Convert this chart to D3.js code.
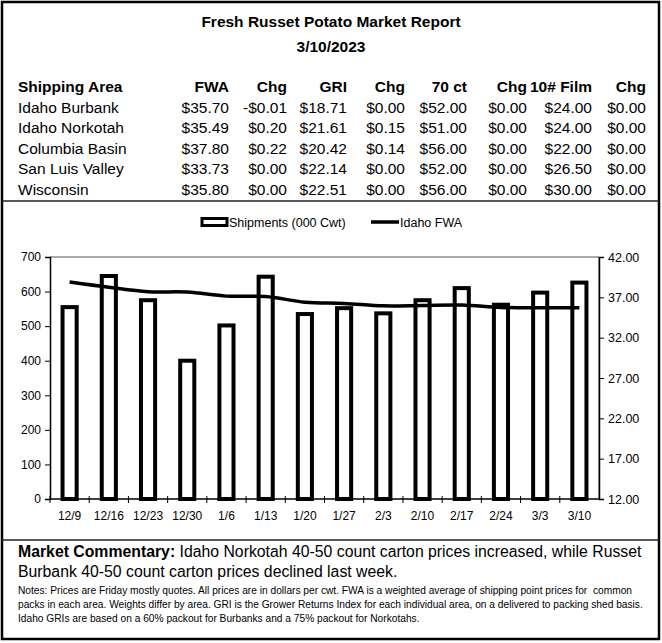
<!DOCTYPE html>
<html>
<head>
<meta charset="utf-8">
<script src="https://cdn.jsdelivr.net/npm/d3@7"></script>
<style>
  body { margin: 0; background: #fff; }
  text { font-family: Arial, "Liberation Sans", sans-serif; fill: #000; }
  .note { white-space: pre; }
</style>
</head>
<body>
<div id="report"></div>
<script>
// ---- table data ----
const headers = ["Shipping Area", "FWA", "Chg", "GRI", "Chg", "70 ct", "Chg", "10# Film", "Chg"];
const areas = ["Idaho Burbank", "Idaho Norkotah", "Columbia Basin", "San Luis Valley", "Wisconsin"];
const fwa = [35.70, 35.49, 37.80, 33.73, 35.80];
const fwaChg = [-0.01, 0.20, 0.22, 0.00, 0.00];
const gri = [18.71, 21.61, 20.42, 22.14, 22.51];
const griChg = [0.00, 0.15, 0.14, 0.00, 0.00];
const ct70 = [52.00, 51.00, 56.00, 52.00, 56.00];
const ct70Chg = [0.00, 0.00, 0.00, 0.00, 0.00];
const film = [24.00, 24.00, 22.00, 26.50, 30.00];
const filmChg = [0.00, 0.00, 0.00, 0.00, 0.00];

// ---- chart data ----
const weeks = ["12/9", "12/16", "12/23", "12/30", "1/6", "1/13", "1/20", "1/27", "2/3", "2/10", "2/17", "2/24", "3/3", "3/10"];
const shipments = [555, 645, 575, 400, 502, 643, 535, 552, 537, 575, 610, 562, 597, 626];
const idahoFwa = [38.90, 38.25, 37.70, 37.65, 37.15, 37.10, 36.40, 36.25, 35.95, 36.00, 36.05, 35.75, 35.70, 35.70];
const leftTicks = [0, 100, 200, 300, 400, 500, 600, 700];
const rightTicks = [12, 17, 22, 27, 32, 37, 42];

const commentaryLabel = "Market Commentary:";
const commentaryLines = [" Idaho Norkotah 40-50 count carton prices increased, while Russet",
                         "Burbank 40-50 count carton prices declined last week."];
const notes = ["Notes: Prices are Friday mostly quotes. All prices are in dollars per cwt. FWA is a weighted average of shipping point prices for  common",
               "packs in each area. Weights differ by area. GRI is the Grower Returns Index for each individual area, on a delivered to packing shed basis.",
               "Idaho GRIs are based on a 60% packout for Burbanks and a 75% packout for Norkotahs."];

const W = 662, H = 643;
let money = v => (v < 0 ? "-$" : "$") + Math.abs(v).toFixed(2);

let svg = d3.select("#report").append("svg")
    .attr("width", W).attr("height", H);

// outer frame and section dividers
svg.append("rect").attr("x", 2).attr("y", 2).attr("width", 657).attr("height", 637)
    .attr("fill", "none").attr("stroke", "#000").attr("stroke-width", 2.5);
svg.append("line").attr("x1", 2).attr("x2", 659).attr("y1", 201).attr("y2", 201)
    .attr("stroke", "#222").attr("stroke-width", 1.5);
svg.append("line").attr("x1", 2).attr("x2", 659).attr("y1", 540).attr("y2", 540)
    .attr("stroke", "#222").attr("stroke-width", 1.5);

// ---- table ----
svg.append("text").attr("x", 331).attr("y", 27).attr("text-anchor", "middle")
    .style("font-size", "15.5px").style("font-weight", "bold")
    .text("Fresh Russet Potato Market Report");
svg.append("text").attr("x", 331).attr("y", 52).attr("text-anchor", "middle")
    .style("font-size", "15.5px").style("font-weight", "bold")
    .text("3/10/2023");

let colRight = [18, 229, 287, 347, 405, 467, 527, 592, 646];
let columns = [areas, fwa, fwaChg, gri, griChg, ct70, ct70Chg, film, filmChg];
let headY = 92, rowStep = 20.5;

let table = svg.append("g").classed("table", true);
table.selectAll("text.head").data(headers).join("text")
    .classed("head", true)
    .attr("x", (d, i) => colRight[i])
    .attr("y", headY)
    .attr("text-anchor", (d, i) => i == 0 ? "start" : "end")
    .style("font-size", "15.5px").style("font-weight", "bold")
    .text(d => d);

columns.forEach((col, c) => {
    table.selectAll("text.c" + c).data(col).join("text")
        .classed("c" + c, true)
        .attr("x", colRight[c])
        .attr("y", (d, r) => headY + rowStep * (r + 1))
        .attr("text-anchor", c == 0 ? "start" : "end")
        .style("font-size", "15.5px")
        .text(d => c == 0 ? d : money(d));
});

// ---- chart ----
let plot = { left: 50, right: 599, top: 257, bottom: 499 };

let xScale = d3.scaleBand().domain(weeks).range([plot.left, plot.right])
    .paddingInner(0.64).paddingOuter(0.32);
let yLeft = d3.scaleLinear().domain([0, 700]).range([plot.bottom, plot.top]);
let yRight = d3.scaleLinear().domain([12, 42]).range([plot.bottom, plot.top]);
let step = xScale.step();
let cx = d => xScale(d) + xScale.bandwidth() / 2;

let chart = svg.append("g").classed("chart", true);

// plot frame (top and right)
chart.append("line").attr("x1", plot.left).attr("x2", plot.right)
    .attr("y1", plot.top).attr("y2", plot.top).attr("stroke", "#555").attr("stroke-width", 1);
chart.append("line").attr("x1", plot.right).attr("x2", plot.right)
    .attr("y1", plot.top).attr("y2", plot.bottom).attr("stroke", "#555").attr("stroke-width", 1);

// bars
chart.append("g").attr("id", "bars").selectAll("rect").data(weeks).join("rect")
    .attr("x", d => xScale(d))
    .attr("width", xScale.bandwidth())
    .attr("y", (d, i) => yLeft(shipments[i]))
    .attr("height", (d, i) => plot.bottom - yLeft(shipments[i]))
    .attr("fill", "#fff").attr("stroke", "#000").attr("stroke-width", 4);

// left axis
let axL = chart.append("g").attr("transform", "translate(" + plot.left + ",0)")
    .call(d3.axisLeft(yLeft).tickValues(leftTicks).tickSize(5).tickPadding(4));
// right axis
let axR = chart.append("g").attr("transform", "translate(" + plot.right + ",0)")
    .call(d3.axisRight(yRight).tickValues(rightTicks).tickSize(5).tickPadding(4).tickFormat(d3.format(".2f")));
// bottom axis: labels centred on bars, ticks on category boundaries
let axB = chart.append("g").attr("transform", "translate(0," + plot.bottom + ")")
    .call(d3.axisBottom(xScale).tickSize(0).tickPadding(12));
axB.selectAll(".tick").data(weeks).append("line")
    .attr("x1", -step / 2).attr("x2", -step / 2)
    .attr("y1", -3).attr("y2", 4).attr("stroke", "#000");

[axL, axR, axB].forEach(ax => {
    ax.select(".domain").attr("stroke", "#000").attr("stroke-width", 1.5);
    ax.selectAll(".tick text").style("font-size", "12px").style("font-family", "Arial, 'Liberation Sans', sans-serif");
    ax.selectAll(".tick line").attr("stroke", "#000");
});
axR.selectAll(".tick text").style("font-size", "12.5px");
axB.select(".domain").attr("d", "M" + plot.left + ",0H" + plot.right);

// FWA line
let lineGen = d3.line()
    .x((d, i) => cx(weeks[i]))
    .y(d => yRight(d))
    .curve(d3.curveCatmullRom.alpha(0.5));
chart.append("path").datum(idahoFwa)
    .attr("fill", "none").attr("stroke", "#000").attr("stroke-width", 3.5)
    .attr("d", lineGen);

// legend
let legend = chart.append("g").attr("transform", "translate(0,222)");
legend.append("rect").attr("x", 202).attr("y", -3.5).attr("width", 25).attr("height", 7)
    .attr("fill", "#fff").attr("stroke", "#000").attr("stroke-width", 3);
legend.append("text").attr("x", 229).attr("y", 4.5).style("font-size", "12.5px")
    .text("Shipments (000 Cwt)");
legend.append("line").attr("x1", 371).attr("x2", 399).attr("y1", 0).attr("y2", 0)
    .attr("stroke", "#000").attr("stroke-width", 3.5);
legend.append("text").attr("x", 400).attr("y", 4.5).style("font-size", "12.5px")
    .text("Idaho FWA");

// ---- commentary ----
let comm = svg.append("text").attr("x", 18).attr("y", 557).style("font-size", "15.8px");
comm.append("tspan").style("font-weight", "bold").text(commentaryLabel);
comm.append("tspan").text(commentaryLines[0]);
svg.append("text").attr("x", 18).attr("y", 577).style("font-size", "15.8px").text(commentaryLines[1]);

svg.selectAll("text.note").data(notes).join("text")
    .classed("note", true)
    .attr("x", 18).attr("y", (d, i) => 594 + i * 14)
    .style("font-size", "10.2px")
    .text(d => d);
</script>
</body>
</html>
